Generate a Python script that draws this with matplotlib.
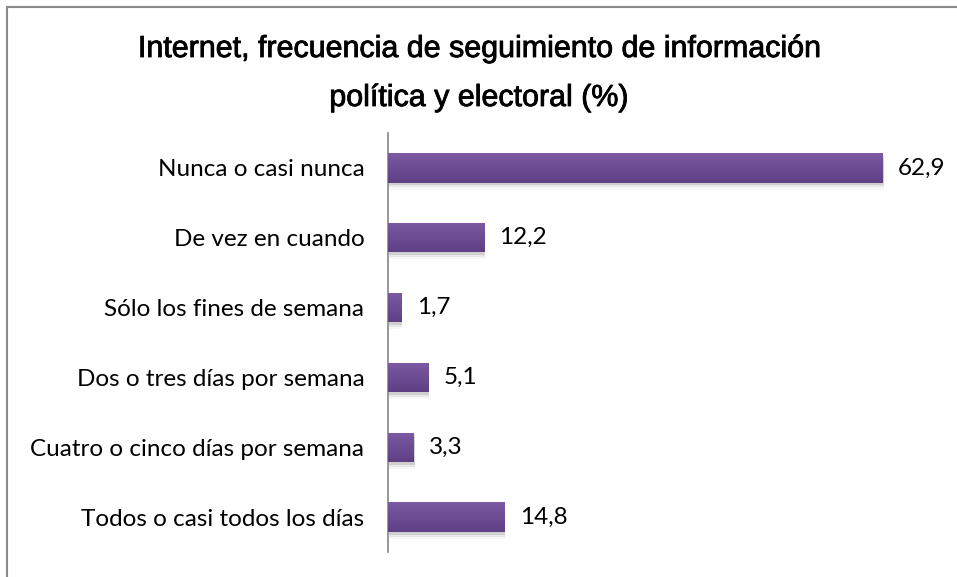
import numpy as np
import matplotlib.pyplot as plt
import matplotlib.patheffects as pe
from matplotlib.patches import Rectangle
from matplotlib.lines import Line2D

categorias = ["Nunca o casi nunca", "De vez en cuando", "Sólo los fines de semana",
              "Dos o tres días por semana", "Cuatro o cinco días por semana",
              "Todos o casi todos los días"]
valores = [62.9, 12.2, 1.7, 5.1, 3.3, 14.8]
etiquetas = ["62,9", "12,2", "1,7", "5,1", "3,3", "14,8"]

fig = plt.figure(figsize=(9.57, 5.77), dpi=100)
ax = fig.add_axes([0.4054, 0.0433, 0.5756, 0.7262])

y = np.arange(len(categorias))
bars = ax.barh(y, valores, height=0.42, color="#6b4a94", zorder=3)

# degradado y sombra de las barras
grad = np.linspace(0, 1, 50).reshape(-1, 1)
cmap = plt.matplotlib.colors.LinearSegmentedColormap.from_list("g", ["#7d5aa3", "#5e3f84"])
for b in bars:
    x0, y0, w, h = b.get_x(), b.get_y(), b.get_width(), b.get_height()
    for k, a in [(0.04, 0.10), (0.07, 0.06), (0.10, 0.03)]:
        sh = Rectangle((x0 + 0.1, y0 + k), w, h, color="#000000", alpha=a, zorder=2, lw=0)
        ax.add_patch(sh)
    im = ax.imshow(grad, extent=[x0, x0 + w, y0 + h, y0], cmap=cmap, aspect="auto", zorder=4)
    im.set_clip_path(b)

for yi, v, t in zip(y, valores, etiquetas):
    ax.annotate(t, (v, yi), xytext=(11, 0), textcoords="offset points", va="center", ha="left",
                fontsize=17.5, family="Lato", color="#000000")

ax.set_xlim(0, 70)
ax.set_ylim(len(categorias) - 0.5, -0.5)
ax.set_yticks(y)
ax.set_yticklabels(categorias, fontsize=17.5, family="Lato")
ax.tick_params(axis="y", length=0, pad=17)
ax.set_xticks([])
for s in ["top", "right", "bottom"]:
    ax.spines[s].set_visible(False)
ax.spines["left"].set_color("#868686")
ax.spines["left"].set_linewidth(1.2)

trazo = [pe.withStroke(linewidth=0.6, foreground="black")]
fig.text(0.5, 1 - 49 / 577, "Internet, frecuencia de seguimiento de información",
         ha="center", va="center", fontsize=21.9, family="Liberation Sans", path_effects=trazo)
fig.text(0.5, 1 - 98 / 577, "política y electoral (%)",
         ha="center", va="center", fontsize=21.9, family="Liberation Sans", path_effects=trazo)

# borde del gráfico
fig.add_artist(Line2D([7 / 957, 7 / 957], [0, 1 - 7 / 577], color="#8a8a8a", lw=1.5))
fig.add_artist(Line2D([7 / 957, 1], [1 - 7 / 577, 1 - 7 / 577], color="#8a8a8a", lw=1.5))

fig.savefig("out.png", dpi=100)
